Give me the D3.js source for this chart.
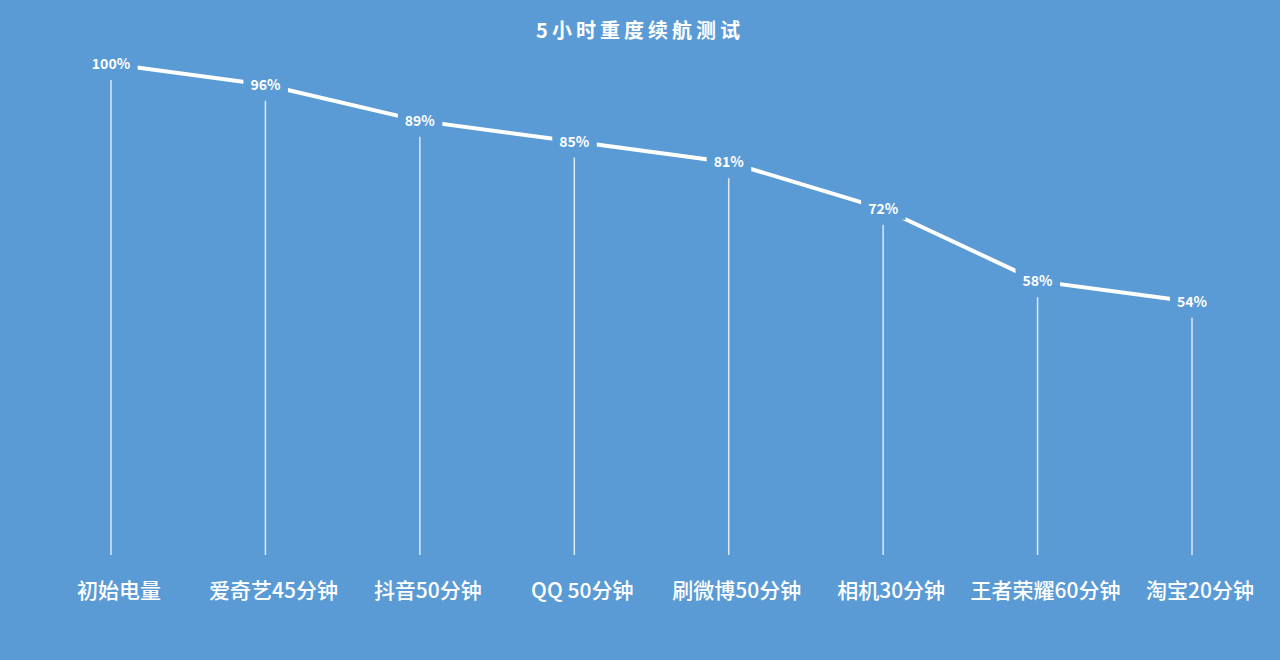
<!DOCTYPE html>
<html><head><meta charset="utf-8">
<script src="https://cdn.jsdelivr.net/npm/d3@7/dist/d3.min.js"></script>
<style>
html,body{margin:0;padding:0;background:#5b9bd5;}
svg{display:block;}
text{font-family:"Noto Sans CJK SC","Noto Sans",sans-serif;fill:#fff;}
</style></head>
<body>
<svg id="c" width="1280" height="660"></svg>
<script>
const categories = ["初始电量","爱奇艺45分钟","抖音50分钟","QQ 50分钟","刷微博50分钟","相机30分钟","王者荣耀60分钟","淘宝20分钟"];
const values = [100,96,89,85,81,72,58,54];
const valueLabels = ["100%","96%","89%","85%","81%","72%","58%","54%"];
const title = "5小时重度续航测试";

const W = 1280, H = 660;
const svg = d3.select("#c");
svg.append("rect").attr("width",W).attr("height",H).attr("fill","#5b9bd5");

const x = d3.scalePoint().domain(categories).range([111,1192]);
const y = d3.scaleLinear().domain([0,100]).range([581,64]);
const baseY = 555;

// drop lines
svg.append("g").selectAll("line").data(categories).join("line")
  .attr("x1",d=>x(d)).attr("x2",d=>x(d))
  .attr("y1",(d,i)=>y(values[i])+16).attr("y2",baseY)
  .attr("stroke","#dde9f6").attr("stroke-width",1.5);

// main line
const line = d3.line().x((d,i)=>x(categories[i])).y(d=>y(d));
svg.append("path").datum(values).attr("d",line)
  .attr("fill","none").attr("stroke","#fff").attr("stroke-width",4);

// value labels with background masks
const lg = svg.append("g");
values.forEach((v,i)=>{
  const g = lg.append("g");
  const r = g.append("rect").attr("fill","#5b9bd5");
  const t = g.append("text").attr("x",x(categories[i])).attr("y",y(v)+5)
    .attr("text-anchor","middle").attr("font-size",14).attr("font-weight",700)
    .text(valueLabels[i]);
  const b = t.node().getBBox();
  r.attr("x",b.x-7).attr("y",b.y-2).attr("width",b.width+14).attr("height",b.height+4);
});

// category labels
svg.append("g").selectAll("text").data(categories).join("text")
  .attr("x",d=>x(d)+8).attr("y",598)
  .attr("text-anchor","middle").attr("font-size",21).attr("font-weight",500)
  .text(d=>d);

// title
svg.append("text").attr("x",640).attr("y",38).attr("text-anchor","middle")
  .attr("font-size",20).attr("font-weight",700).attr("letter-spacing",4)
  .text(title);
</script>
</body></html>
